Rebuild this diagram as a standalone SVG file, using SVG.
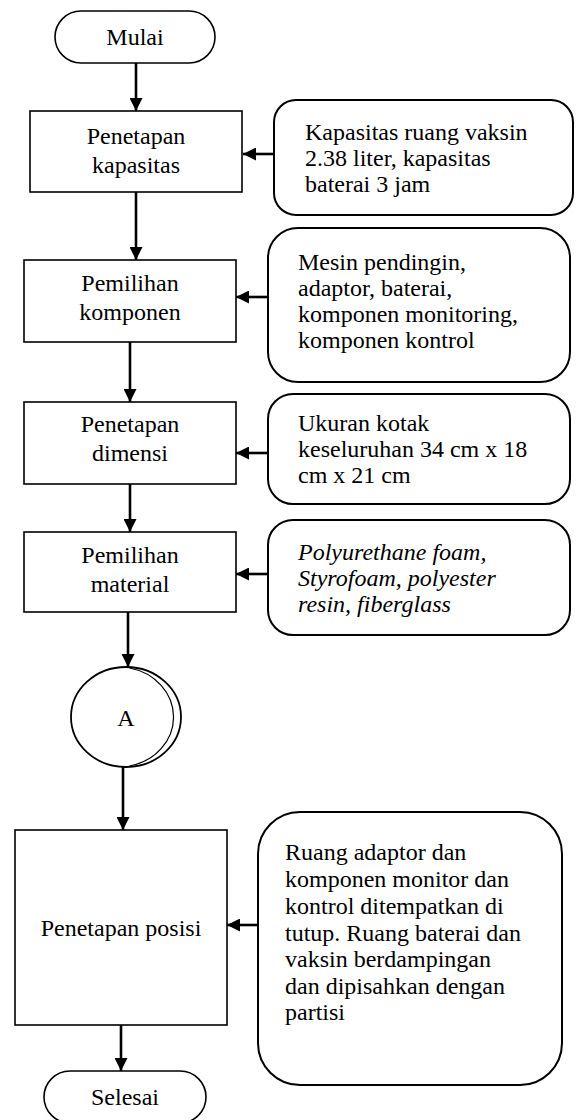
<svg xmlns="http://www.w3.org/2000/svg" width="579" height="1120" viewBox="0 0 579 1120">
<style>
text{font-family:"Liberation Serif","Times New Roman",serif;font-size:24px;fill:#000}
.c{text-anchor:middle}
.it{font-style:italic}
.proc{fill:#fff;stroke:#000;stroke-width:1.6}
.note{fill:#fff;stroke:#000;stroke-width:2}
.term{fill:#fff;stroke:#000;stroke-width:1.6}
.conn line{stroke:#000;stroke-width:2.6}
</style>
<defs>
<marker id="ah" viewBox="0 0 10 10" refX="10" refY="5" markerWidth="5" markerHeight="5" markerUnits="strokeWidth" orient="auto">
<path d="M0,0 L10,5 L0,10 z" fill="#000"/>
</marker>
</defs>
<rect width="579" height="1120" fill="#fff"/>

<g id="connectors" class="conn">
<line x1="136" y1="63" x2="136" y2="111" marker-end="url(#ah)"/>
<line x1="274" y1="154" x2="243" y2="154" marker-end="url(#ah)"/>
<line x1="136" y1="192" x2="136" y2="260" marker-end="url(#ah)"/>
<line x1="268" y1="297" x2="236" y2="297" marker-end="url(#ah)"/>
<line x1="130" y1="342" x2="130" y2="402" marker-end="url(#ah)"/>
<line x1="268" y1="453" x2="236" y2="453" marker-end="url(#ah)"/>
<line x1="130" y1="484" x2="130" y2="532" marker-end="url(#ah)"/>
<line x1="268" y1="574" x2="236" y2="574" marker-end="url(#ah)"/>
<line x1="128" y1="612" x2="128" y2="667" marker-end="url(#ah)"/>
<line x1="123" y1="767" x2="123" y2="830" marker-end="url(#ah)"/>
<line x1="258" y1="925" x2="227" y2="925" marker-end="url(#ah)"/>
<line x1="121" y1="1025" x2="121" y2="1071" marker-end="url(#ah)"/>
</g>

<g id="mulai">
<rect class="term" x="55" y="11" width="160" height="52" rx="26"/>
<text class="c" x="135" y="45">Mulai</text>
</g>

<g id="penetapan-kapasitas">
<rect class="proc" x="30" y="111" width="212" height="81"/>
<text class="c" x="136" y="144">Penetapan</text>
<text class="c" x="136" y="173">kapasitas</text>
</g>

<g id="note-kapasitas">
<rect class="note" x="274" y="100" width="299" height="115" rx="22"/>
<text x="305" y="140">Kapasitas ruang vaksin</text>
<text x="305" y="166">2.38 liter, kapasitas</text>
<text x="305" y="192">baterai 3 jam</text>
</g>

<g id="pemilihan-komponen">
<rect class="proc" x="24" y="260" width="212" height="82"/>
<text class="c" x="130" y="291">Pemilihan</text>
<text class="c" x="130" y="320">komponen</text>
</g>

<g id="note-komponen">
<rect class="note" x="268" y="228" width="302" height="154" rx="30"/>
<text x="298" y="270">Mesin pendingin,</text>
<text x="298" y="296">adaptor, baterai,</text>
<text x="298" y="322">komponen monitoring,</text>
<text x="298" y="348">komponen kontrol</text>
</g>

<g id="penetapan-dimensi">
<rect class="proc" x="24" y="402" width="212" height="82"/>
<text class="c" x="130" y="432">Penetapan</text>
<text class="c" x="130" y="461">dimensi</text>
</g>

<g id="note-dimensi">
<rect class="note" x="268" y="394" width="302" height="110" rx="25"/>
<text x="298" y="431">Ukuran kotak</text>
<text x="298" y="457">keseluruhan 34 cm x 18</text>
<text x="298" y="483">cm x 21 cm</text>
</g>

<g id="pemilihan-material">
<rect class="proc" x="24" y="532" width="212" height="80"/>
<text class="c" x="130" y="563">Pemilihan</text>
<text class="c" x="130" y="592">material</text>
</g>

<g id="note-material">
<rect class="note" x="268" y="520" width="302" height="115" rx="25"/>
<text class="it" x="298" y="560">Polyurethane foam,</text>
<text class="it" x="298" y="586">Styrofoam, polyester</text>
<text class="it" x="298" y="612">resin, fiberglass</text>
</g>

<g id="konektor-a">
<ellipse cx="126" cy="717" rx="55" ry="50" fill="#fff" stroke="#000" stroke-width="1.8"/>
<path d="M127,668 A55,50 0 0 1 127,766" fill="none" stroke="#000" stroke-width="1.2" transform="translate(2.5,0)"/>
<text class="c" x="126" y="726">A</text>
</g>

<g id="penetapan-posisi">
<rect class="proc" x="15" y="830" width="212" height="195"/>
<text class="c" x="121" y="936">Penetapan posisi</text>
</g>

<g id="note-posisi">
<rect class="note" x="258" y="812" width="304" height="273" rx="42"/>
<text x="285" y="860">Ruang adaptor dan</text>
<text x="285" y="887">komponen monitor dan</text>
<text x="285" y="914">kontrol ditempatkan di</text>
<text x="285" y="941">tutup. Ruang baterai dan</text>
<text x="285" y="967">vaksin berdampingan</text>
<text x="285" y="994">dan dipisahkan dengan</text>
<text x="285" y="1020">partisi</text>
</g>

<g id="selesai">
<rect class="term" x="44" y="1071" width="162" height="52" rx="26"/>
<text class="c" x="125" y="1105">Selesai</text>
</g>
</svg>
